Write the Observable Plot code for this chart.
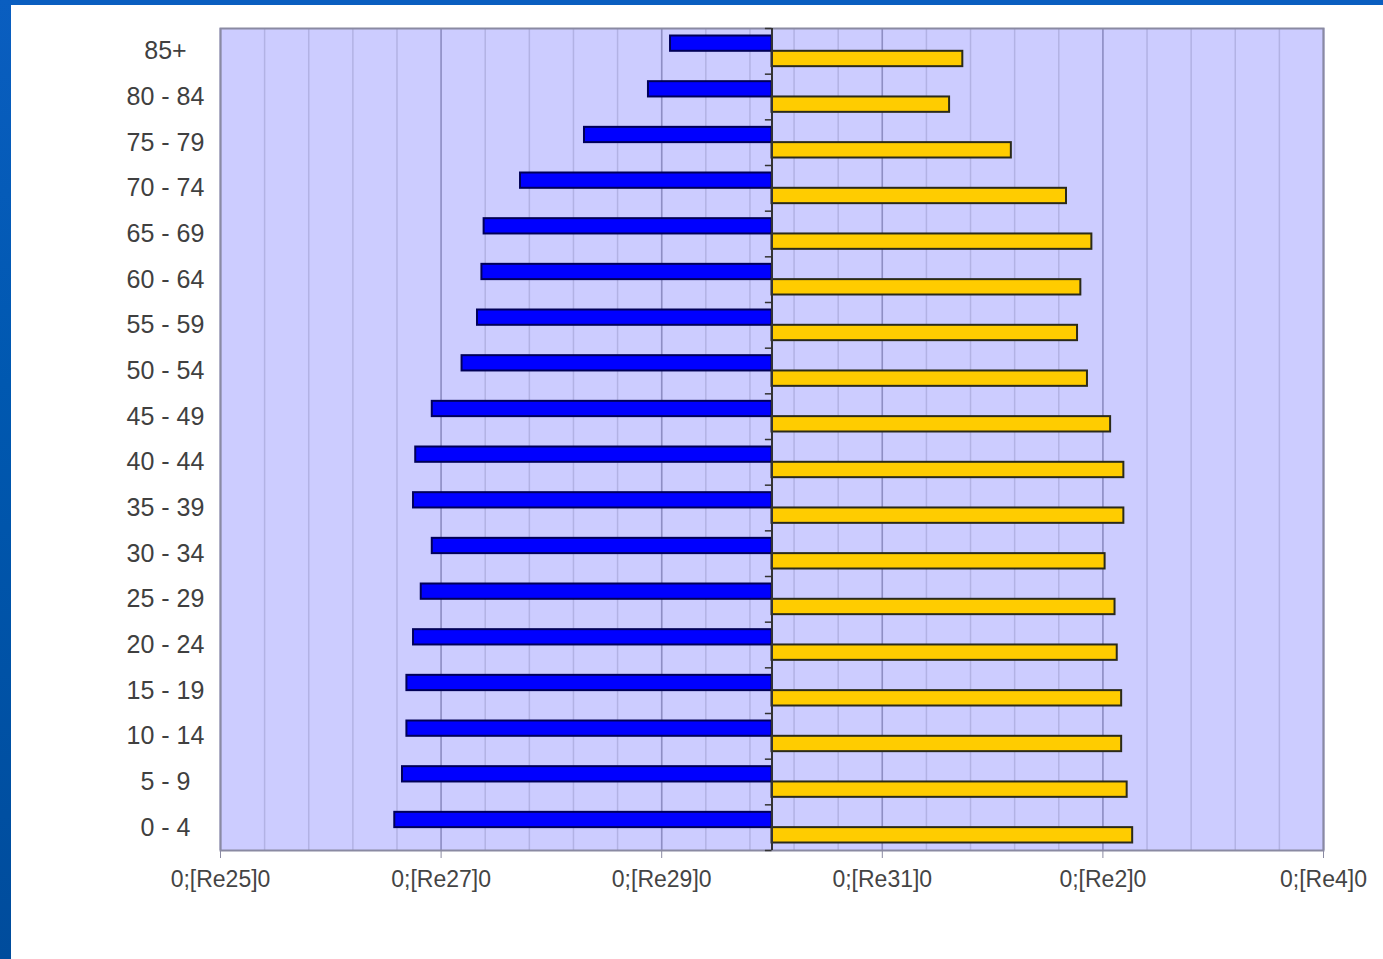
<!DOCTYPE html>
<html>
<head>
<meta charset="utf-8">
<script src="https://cdn.jsdelivr.net/npm/d3@7"></script>
<script src="https://cdn.jsdelivr.net/npm/@observablehq/plot@0.6"></script>
<style>
  html, body { margin: 0; padding: 0; background: #ffffff; }
  #wrap { position: relative; width: 1383px; height: 959px; overflow: hidden; font-family: "Liberation Sans", Arial, sans-serif; }
  #wrap svg { position: absolute; left: 0; top: 0; }
  .band-top { position: absolute; left: 0; top: 0; width: 1383px; height: 5px; background: #0a5ec0; }
  .band-left { position: absolute; left: 0; top: 0; width: 11px; height: 959px; background: linear-gradient(#0a5ec0, #0058b0 40%, #004c9c); }
</style>
</head>
<body>
<div id="wrap"></div>
<script>
// Age groups, top to bottom
const ageGroups = ["85+", "80 - 84", "75 - 79", "70 - 74", "65 - 69", "60 - 64", "55 - 59", "50 - 54",
  "45 - 49", "40 - 44", "35 - 39", "30 - 34", "25 - 29", "20 - 24", "15 - 19", "10 - 14", "5 - 9", "0 - 4"];
// Left (blue) series, magnitudes
const blueValues = [0.92, 1.12, 1.70, 2.28, 2.61, 2.63, 2.67, 2.81,
  3.08, 3.23, 3.25, 3.08, 3.18, 3.25, 3.31, 3.31, 3.35, 3.42];
// Right (yellow) series
const yellowValues = [1.73, 1.61, 2.17, 2.67, 2.90, 2.80, 2.77, 2.86,
  3.07, 3.19, 3.19, 3.02, 3.11, 3.13, 3.17, 3.17, 3.22, 3.27];
// X axis ticks and their (odd) labels as printed
const tickValues = [-5, -3, -1, 1, 3, 5];
const tickLabels = ["0;[Re25]0", "0;[Re27]0", "0;[Re29]0", "0;[Re31]0", "0;[Re2]0", "0;[Re4]0"];
const minorTicks = d3.range(0, 26).map(i => +(-5 + i * 0.4).toFixed(2));

const table = ageGroups.map((g, i) => ({group: g, blue: blueValues[i], yellow: yellowValues[i]}));

const W = 1383, H = 959, mL = 220, mR = 60, mT = 28, mB = 109;
const bw = (H - mT - mB) / ageGroups.length;

const chart = Plot.plot({
  width: W,
  height: H,
  marginLeft: mL,
  marginRight: mR,
  marginTop: mT,
  marginBottom: mB,
  style: {background: "transparent", fontFamily: "'Liberation Sans', Arial, sans-serif"},
  x: {domain: [-5, 5], axis: null},
  y: {domain: ageGroups, padding: 0, round: false, axis: null},
  marks: [
    Plot.frame({fill: "#ccccff"}),
    Plot.ruleX(minorTicks, {stroke: "#b2b2e4", strokeWidth: 1.5}),
    Plot.ruleX(tickValues, {stroke: "#8e8ec4", strokeWidth: 1.5}),
    Plot.frame({stroke: "#8a8aa2", strokeWidth: 2}),
    Plot.barX(table, {y: "group", x1: 0, x2: d => -d.blue, fill: "#0000ff", stroke: "#000058", strokeWidth: 2, insetTop: 7.5, insetBottom: bw - 22.8}),
    Plot.barX(table, {y: "group", x1: 0, x2: d => d.yellow, fill: "#ffcc00", stroke: "#2a2a1a", strokeWidth: 2, insetTop: 22.8, insetBottom: 7.5}),
    Plot.ruleX([0], {stroke: "#333333", strokeWidth: 2}),
    Plot.ruleY(ageGroups, {y: d => d, x1: -0.06, x2: 0, dy: -bw / 2, stroke: "#333333", strokeWidth: 1.5}),
    Plot.ruleY([ageGroups[ageGroups.length - 1]], {y: d => d, x1: -0.06, x2: 0, dy: bw / 2, stroke: "#333333", strokeWidth: 1.5}),
    Plot.text(ageGroups, {y: d => d, text: d => d, frameAnchor: "left", dx: -55, textAnchor: "middle", fontSize: 25, fill: "#404040"}),
    Plot.axisX(tickValues, {
      tickFormat: d => tickLabels[tickValues.indexOf(d)],
      tickSize: 8,
      tickPadding: 12,
      fontSize: 23,
      stroke: "#8a8aa2",
      fill: "#444444"
    })
  ]
});

const wrap = document.getElementById("wrap");
wrap.appendChild(chart);
const t = document.createElement("div"); t.className = "band-top"; wrap.appendChild(t);
const l = document.createElement("div"); l.className = "band-left"; wrap.appendChild(l);
</script>
</body>
</html>
